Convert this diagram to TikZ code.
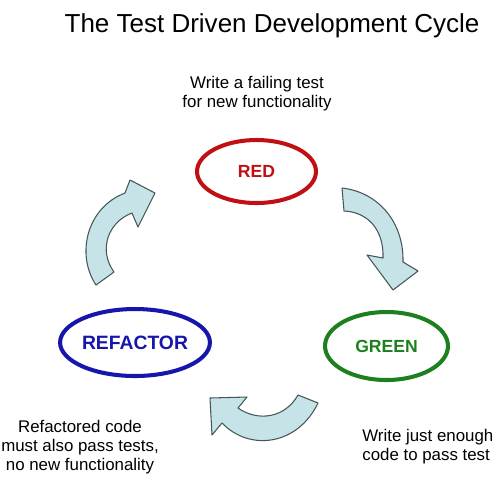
\documentclass[tikz,border=0pt]{standalone}
\usepackage{fontspec}
\setmainfont{Liberation Sans}
\usetikzlibrary{shapes.geometric}
\definecolor{tddred}{RGB}{192,16,20}
\definecolor{tddgreen}{RGB}{28,128,30}
\definecolor{tddblue}{RGB}{22,22,172}
\definecolor{arrowfill}{RGB}{198,227,231}
\definecolor{arrowline}{RGB}{70,86,88}
\begin{document}
\begin{tikzpicture}[x=0.02cm,y=-0.02cm,
    phase/.style={ellipse,line width=2.3pt,inner sep=0pt,font=\fontsize{10}{12}\bfseries\selectfont},
    note/.style={align=center,inner sep=0pt,font=\fontsize{9.6}{10.9}\selectfont},
    bigarrow/.style={fill=arrowfill,draw=arrowline,line width=0.6pt,line join=round}]
    \useasboundingbox (0,0) rectangle (500,485);
    \node[anchor=base,font=\fontsize{14.8}{17}\selectfont] (title) at (272,32) {The Test Driven Development Cycle};
    \node[phase,draw=tddred,text=tddred,minimum width=2.38cm,minimum height=1.26cm] (red) at (256.5,171.5) {RED};
    \node[phase,draw=tddgreen,text=tddgreen,minimum width=2.46cm,minimum height=1.36cm] (green) at (386.5,346) {GREEN};
    \node[phase,draw=tddblue,text=tddblue,minimum width=2.52cm,minimum height=1.34cm,font=\fontsize{11}{13}\bfseries\selectfont] (refactor) at (135,342.5) {REFACTOR};
    \node[note] (redtext) at (257,94) {Write a failing test\\for new functionality};
    \node[note,align=left,anchor=west] (greentext) at (362,447) {Write just enough\\code to pass test};
    \node[note] (refactortext) at (80,447) {Refactored code\\must also pass tests,\\no new functionality};
    \draw[bigarrow] (342,188) .. controls (378,192) and (404,222) .. (403,262)
        -- (418,271) -- (393,290) -- (367,255) -- (383,258)
        .. controls (384,230) and (368,212) .. (344,211) -- cycle;
    \draw[bigarrow] (318,403) .. controls (298,445) and (250,452) .. (222,423)
        -- (212,435) -- (210,398) -- (247,397) -- (238,408)
        .. controls (258,422) and (285,418) .. (298,395) -- cycle;
    \draw[bigarrow] (96,285) .. controls (76,255) and (86,208) .. (125,193)
        -- (130,180) -- (155,193) -- (138,227) -- (132,213)
        .. controls (108,222) and (98,250) .. (114,272) -- cycle;
\end{tikzpicture}
\end{document}
